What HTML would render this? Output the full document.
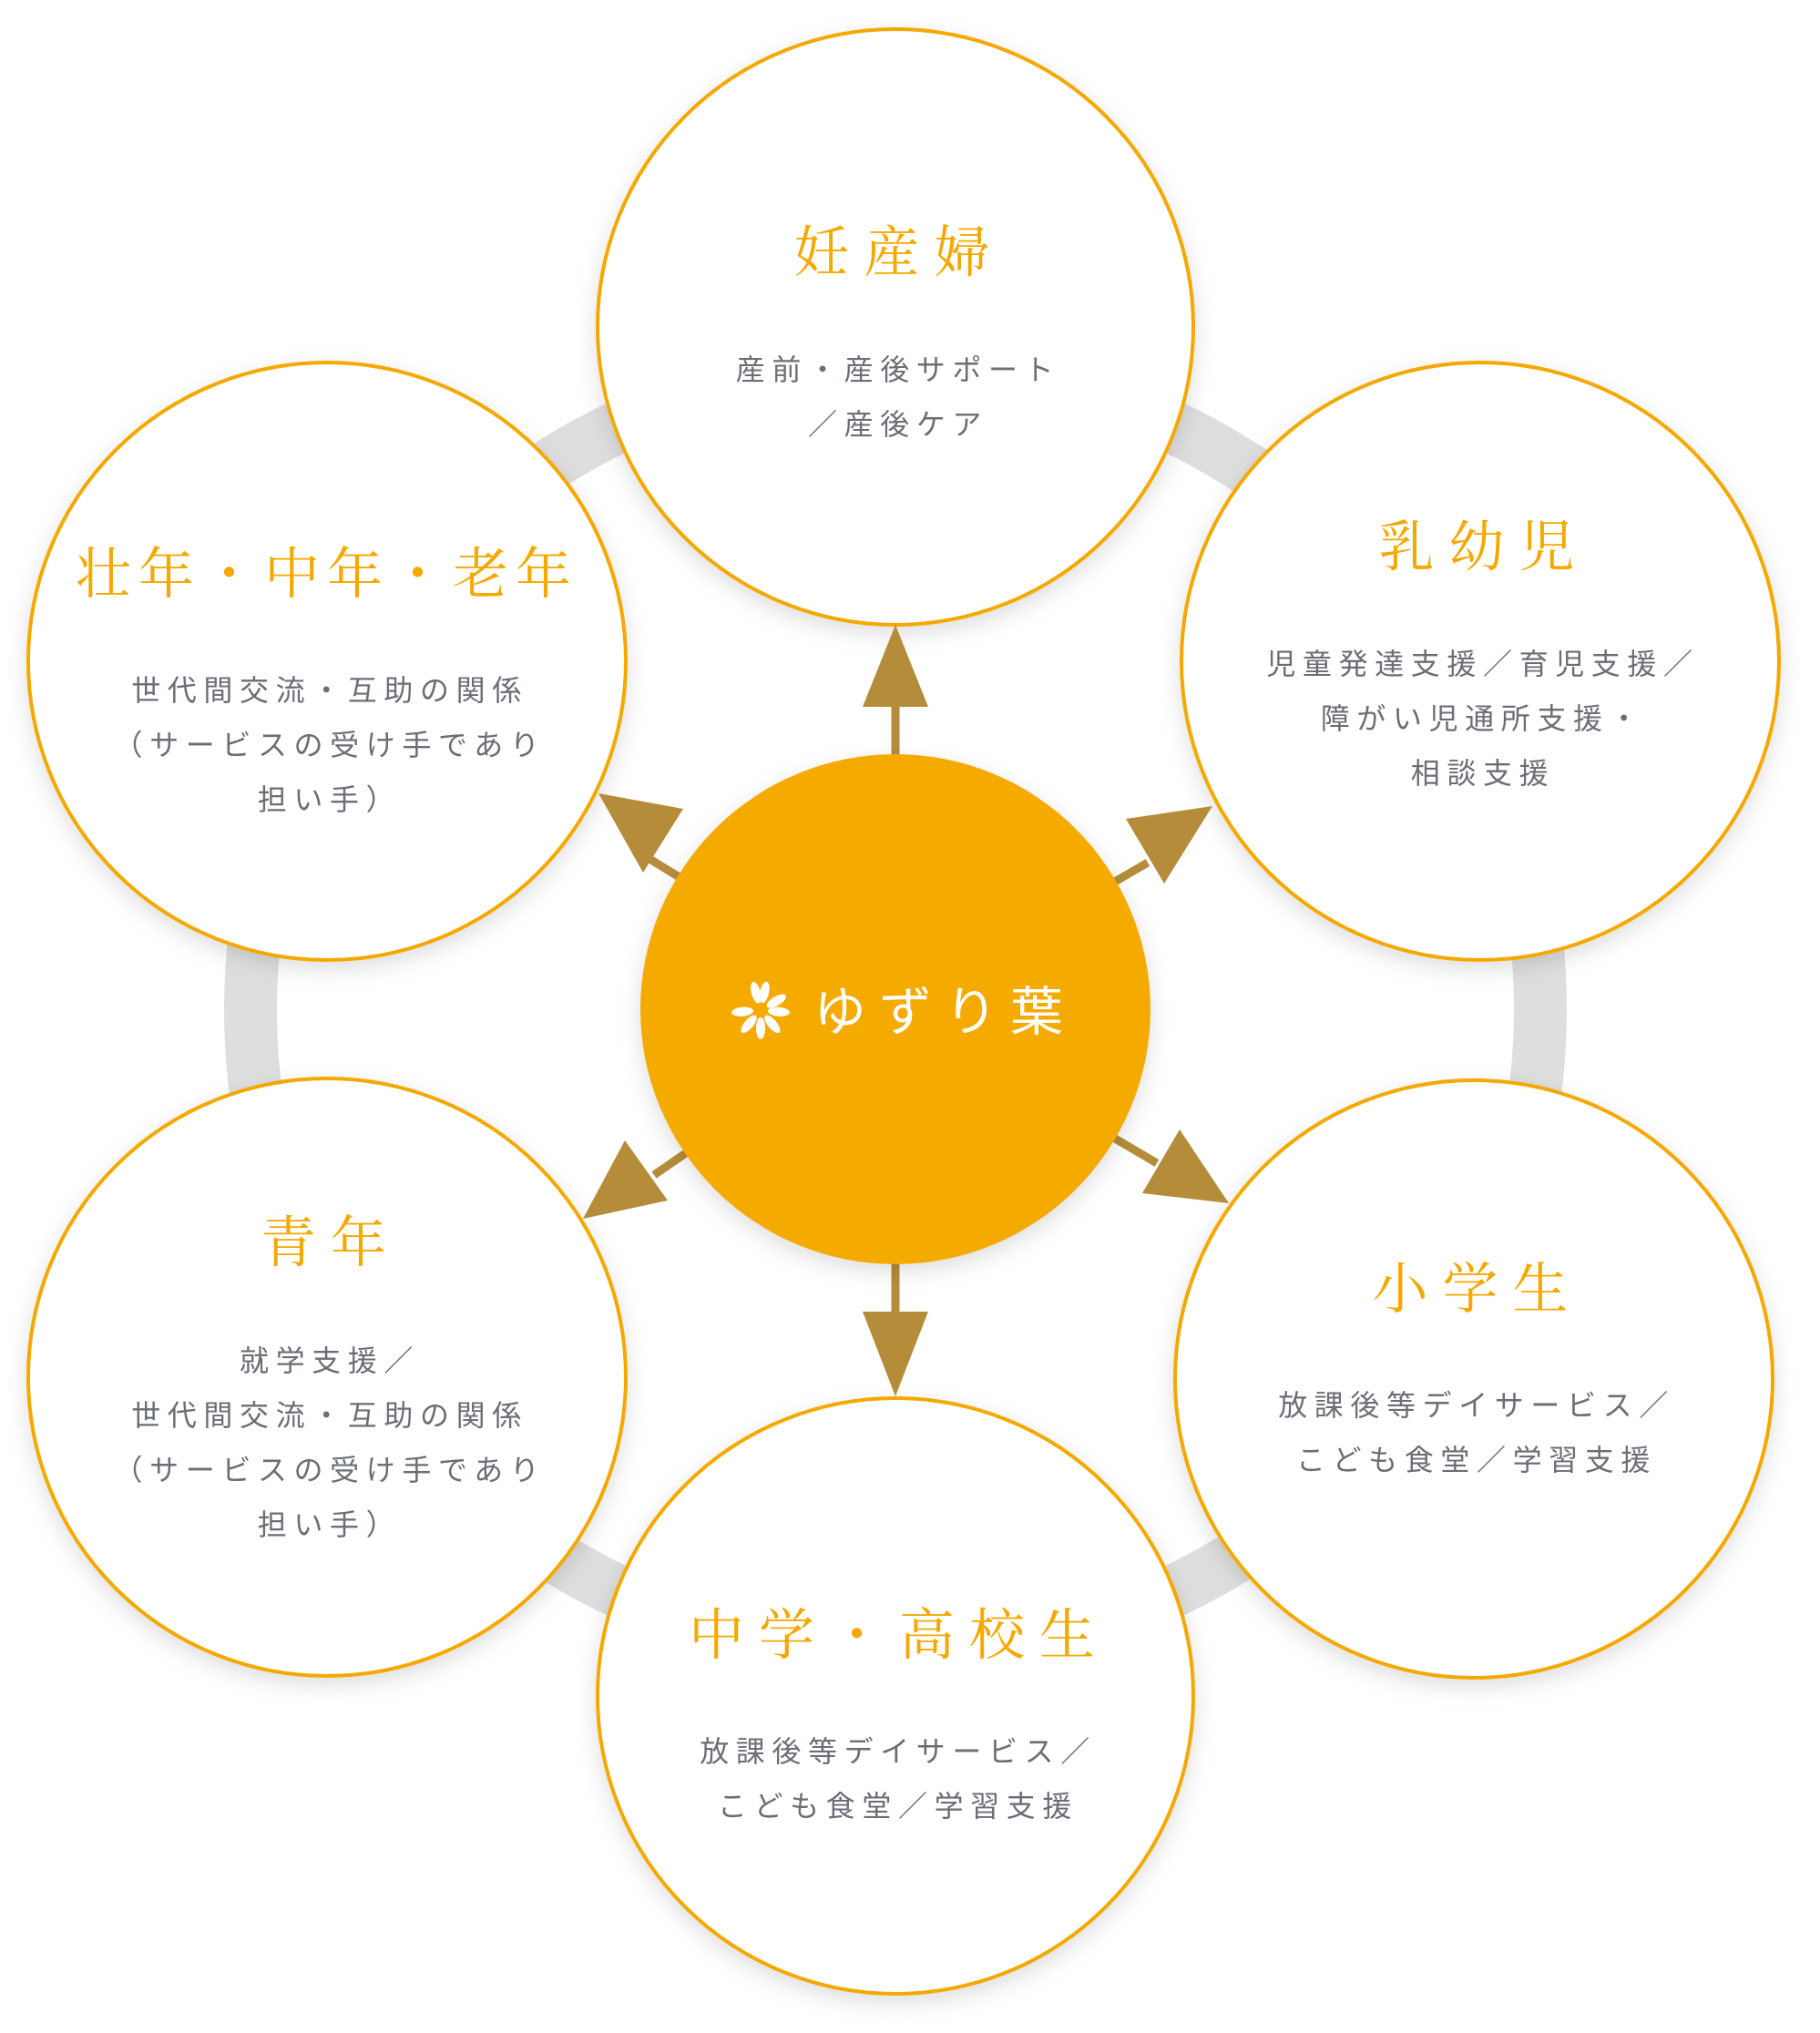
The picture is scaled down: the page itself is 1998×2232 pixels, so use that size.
<!DOCTYPE html>
<html><head><meta charset="utf-8">
<style>
html,body{margin:0;padding:0;background:#fff;}
#w{position:relative;width:1998px;height:2232px;overflow:hidden;background:#fff;}
svg{position:absolute;left:0;top:0;}
.t{position:absolute;width:700px;text-align:center;white-space:nowrap;}
.ti{font-family:"Liberation Serif","Noto Serif CJK SC",serif;color:#f5a800;font-size:61px;letter-spacing:16px;line-height:80px;padding-left:4px;}
.ti.n{letter-spacing:8px;padding-left:0px;}
.bd{font-family:"Liberation Sans","Noto Sans CJK JP",sans-serif;color:#6b6e75;font-size:32px;letter-spacing:7.6px;line-height:60px;padding-left:3px;}
.c{font-family:"Liberation Sans","Noto Sans CJK JP",sans-serif;color:#fff;font-size:58px;letter-spacing:14px;line-height:80px;}
</style></head><body><div id="w">
<svg width="1998" height="2232" viewBox="0 0 1998 2232">
<defs>
<filter id="sh" x="-20%" y="-20%" width="140%" height="140%"><feDropShadow dx="0" dy="8" stdDeviation="12" flood-color="#000" flood-opacity="0.13"/></filter>
</defs>
<circle cx="983" cy="1108" r="708" fill="none" stroke="#dedede" stroke-width="58"/>
<g fill="#fff" stroke="#f5a800" stroke-width="4" filter="url(#sh)">
<circle cx="983" cy="359" r="327"/>
<circle cx="1625" cy="726" r="328"/>
<circle cx="359" cy="726" r="328"/>
<circle cx="359" cy="1512" r="328"/>
<circle cx="1618" cy="1514" r="328"/>
<circle cx="983" cy="1862" r="327"/>
</g>
<g stroke="#b58d3a" stroke-width="9" fill="#b58d3a">
<line x1="983" y1="1108" x2="983" y2="770"/>
<polygon points="983,686 947,776 1019,776" stroke="none"/>
<line x1="983" y1="1108" x2="983" y2="1445"/>
<polygon points="983,1533 947,1440 1019,1440" stroke="none"/>
<line x1="983" y1="1108" x2="1260" y2="947"/>
<polygon points="1331,885 1236,899 1278,970" stroke="none"/>
<line x1="983" y1="1108" x2="700" y2="935"/>
<polygon points="657,871 750,888 706,958" stroke="none"/>
<line x1="983" y1="1108" x2="718" y2="1290"/>
<polygon points="640,1338 686,1252 733,1318" stroke="none"/>
<line x1="983" y1="1108" x2="1270" y2="1277"/>
<polygon points="1349,1321 1254,1310 1295,1240" stroke="none"/>
</g>
<circle cx="983" cy="1108" r="280" fill="#f5aa00" filter="url(#sh)"/>
<g fill="#fff" transform="translate(835,1109)">
<ellipse cx="0" cy="-20" rx="5" ry="12" transform="rotate(12)"/>
<ellipse cx="0" cy="-20" rx="5" ry="12" transform="rotate(-15)"/>
<ellipse cx="0" cy="-20" rx="5" ry="12" transform="rotate(60)"/>
<ellipse cx="0" cy="-20" rx="5" ry="12" transform="rotate(95)"/>
<ellipse cx="0" cy="-20" rx="5" ry="12" transform="rotate(140)"/>
<ellipse cx="0" cy="-20" rx="5" ry="12" transform="rotate(180)"/>
<ellipse cx="0" cy="-20" rx="5" ry="12" transform="rotate(220)"/>
<ellipse cx="0" cy="-20" rx="5" ry="12" transform="rotate(265)"/>
</g>
</svg>
<div class="t c" style="left:687px;top:1072px;">ゆずり葉</div>

<div class="t ti" style="left:633px;top:239px;">妊産婦</div>
<div class="t bd" style="left:633px;top:376px;">産前・産後サポート<br>／産後ケア</div>

<div class="t ti" style="left:1275px;top:562px;">乳幼児</div>
<div class="t bd" style="left:1275px;top:699px;">児童発達支援／育児支援／<br>障がい児通所支援・<br>相談支援</div>

<div class="t ti n" style="left:9px;top:592px;">壮年・中年・老年</div>
<div class="t bd" style="left:9px;top:728px;">世代間交流・互助の関係<br>（サービスの受け手であり<br>担い手）</div>

<div class="t ti" style="left:9px;top:1326px;">青年</div>
<div class="t bd" style="left:9px;top:1464px;">就学支援／<br>世代間交流・互助の関係<br>（サービスの受け手であり<br>担い手）</div>

<div class="t ti" style="left:1268px;top:1377px;">小学生</div>
<div class="t bd" style="left:1268px;top:1513px;">放課後等デイサービス／<br>こども食堂／学習支援</div>

<div class="t ti" style="left:633px;top:1757px;">中学・高校生</div>
<div class="t bd" style="left:633px;top:1893px;">放課後等デイサービス／<br>こども食堂／学習支援</div>
</div></body></html>
